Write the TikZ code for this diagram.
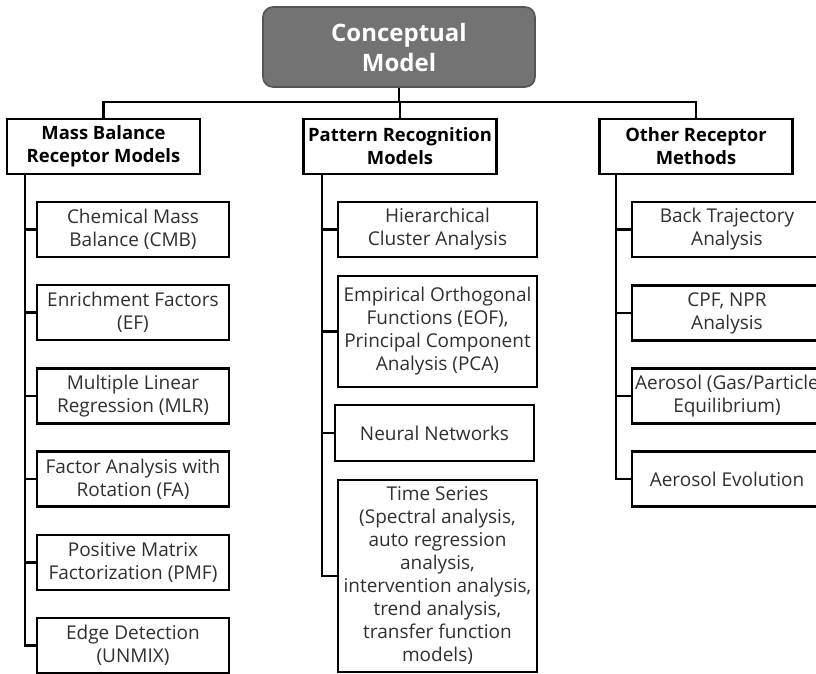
\documentclass[tikz,border=0pt]{standalone}
\usepackage{fontspec}
\setmainfont{Open Sans}
\usepackage{tikz}
\usetikzlibrary{positioning,calc}
\definecolor{topfill}{HTML}{737373}
\definecolor{topline}{HTML}{555555}
\definecolor{leaftext}{HTML}{303030}

\begin{document}
\begin{tikzpicture}[x=1pt,y=-1pt,
  title/.style={draw=topline,fill=topfill,line width=1.6pt,rounded corners=10pt,minimum width=272pt,minimum height=80pt,align=center,text=white,font=\fontsize{24}{30}\selectfont\bfseries},
  group/.style={draw,line width=2.4pt,minimum width=193pt,minimum height=55pt,align=center,inner sep=1pt,font=\fontsize{18.4}{23}\selectfont\bfseries},
  leaf/.style={draw,line width=2.4pt,minimum height=55pt,align=center,inner sep=1pt,text=leaftext,font=\fontsize{19}{23}\selectfont},
  wire/.style={line width=2.2pt}]
\path[use as bounding box,clip] (0,0) rectangle (816,673);
\fill[white] (0,0) rectangle (816,673);
% root and bus
\node[title] (cm) at (399,47) {Conceptual\\Model};
\coordinate (bus) at (399,102);
\node[group] (mb) at (103.5,146.5) {Mass Balance\\Receptor Models};
\node[group] (pr) at (400,146.5) {Pattern Recognition\\Models};
\node[group] (orm) at (696,146.5) {Other Receptor\\Methods};
\draw[wire] (cm.south) -- (bus);
\draw[wire] (mb.north) |- (bus) -| (orm.north);
\draw[wire] (pr.north) -- (pr.north |- bus);
% mass balance branch
\node[leaf,minimum width=192pt] (cmb) at (133,229.5) {Chemical Mass\\Balance (CMB)};
\node[leaf,minimum width=192pt] (ef) at (133,312.5) {Enrichment Factors\\(EF)};
\node[leaf,minimum width=192pt] (mlr) at (133,396) {Multiple Linear\\Regression (MLR)};
\node[leaf,minimum width=192pt] (fa) at (133,479) {Factor Analysis with\\Rotation (FA)};
\node[leaf,minimum width=192pt] (pmf) at (133,562.5) {Positive Matrix\\Factorization (PMF)};
\node[leaf,minimum width=192pt] (unmix) at (133,645.5) {Edge Detection\\(UNMIX)};
\coordinate (mbt) at (25,174);
\foreach \c in {cmb,ef,mlr,fa,pmf} \draw[wire] (mbt |- \c.west) -- (\c.west);
\draw[wire] (mbt) |- (unmix.west);
% pattern recognition branch
\node[leaf,minimum width=199pt] (hca) at (437.5,229.5) {Hierarchical\\Cluster Analysis};
\node[leaf,minimum width=199pt,minimum height=111pt] (eof) at (437.5,331.5) {Empirical Orthogonal\\Functions (EOF),\\Principal Component\\Analysis (PCA)};
\node[leaf,minimum width=199pt,minimum height=56pt] (nn) at (434.5,433) {Neural Networks};
\node[leaf,minimum width=199pt,minimum height=192pt] (ts) at (437.5,576) {Time Series\\(Spectral analysis,\\auto regression\\analysis,\\intervention analysis,\\trend analysis,\\transfer function\\models)};
\coordinate (prt) at (322,174);
\foreach \c in {hca,eof,nn} \draw[wire] (prt |- \c.west) -- (\c.west);
\draw[wire] (prt) |- (ts.west);
% other receptor branch
\node[leaf,minimum width=190pt] (btr) at (727,229.5) {Back Trajectory\\Analysis};
\node[leaf,minimum width=190pt] (cpf) at (727,313) {CPF, NPR\\Analysis};
\node[leaf,minimum width=190pt] (gpe) at (727,396) {Aerosol (Gas/Particle\\Equilibrium)};
\node[leaf,minimum width=190pt] (aev) at (727,479) {Aerosol Evolution};
\coordinate (ormt) at (616,174);
\foreach \c in {btr,cpf,gpe} \draw[wire] (ormt |- \c.west) -- (\c.west);
\draw[wire] (ormt) |- (aev.west);
\end{tikzpicture}
\end{document}
